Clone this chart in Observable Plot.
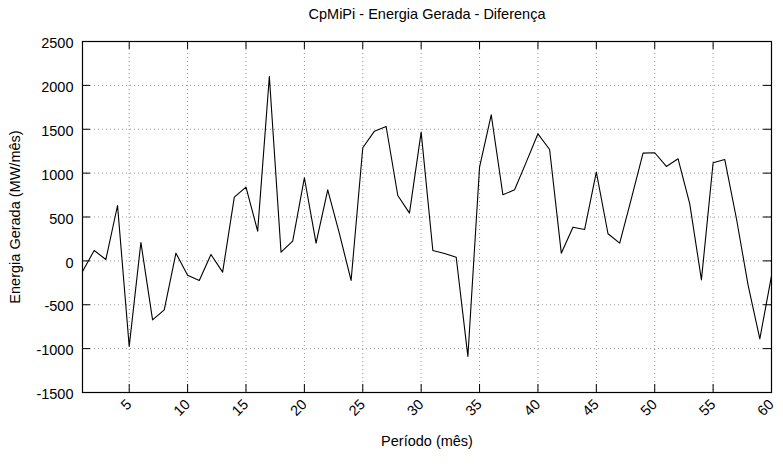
<!DOCTYPE html>
<html>
<head>
<meta charset="utf-8">
<script src="https://cdn.jsdelivr.net/npm/d3@7"></script>
<script src="https://cdn.jsdelivr.net/npm/@observablehq/plot@0.6"></script>
<style>
  html, body { margin: 0; padding: 0; background: #fff; }
  svg { display: block; }
</style>
</head>
<body>
<div id="chart"></div>
<script>
const titleText = "CpMiPi - Energia Gerada - Diferença";
const xLabelText = "Período (mês)";
const yLabelText = "Energia Gerada (MW/mês)";

const periods = [1,2,3,4,5,6,7,8,9,10,11,12,13,14,15,16,17,18,19,20,
  21,22,23,24,25,26,27,28,29,30,31,32,33,34,35,36,37,38,39,40,
  41,42,43,44,45,46,47,48,49,50,51,52,53,54,55,56,57,58,59,60];
const values = [-120,118,16,631,-975,210,-672,-558,88,-163,
  -223,73,-128,726,840,339,2101,99,225,947,
  202,810,310,-223,1289,1478,1531,745,544,1467,
  118,84,42,-1089,1068,1665,753,810,1125,1448,
  1269,88,384,358,1011,309,202,710,1228,1232,
  1076,1163,650,-216,1118,1155,480,-280,-888,-170];

const xTicks = [5,10,15,20,25,30,35,40,45,50,55,60];
const yTicks = [-1500,-1000,-500,0,500,1000,1500,2000,2500];

const data = periods.map((p, i) => ({periodo: p, valor: values[i]}));

const W = 783, H = 466, mL = 82, mR = 12, mT = 41, mB = 74;
const innerW = W - mL - mR, innerH = H - mT - mB;
const tickLen = 8;
const font = "'Liberation Sans', Arial, Helvetica, sans-serif";
const fs = 14.5;

const chart = Plot.plot({
  width: W,
  height: H,
  marginLeft: mL,
  marginRight: mR,
  marginTop: mT,
  marginBottom: mB,
  x: {domain: [1, 60], axis: null},
  y: {domain: [-1500, 2500], axis: null},
  style: {fontFamily: font, fontSize: fs + "px", background: "white", color: "black"},
  marks: [
    Plot.gridX(xTicks, {stroke: "#9a9a9a", strokeOpacity: 1, strokeWidth: 1, strokeDasharray: "1,3"}),
    Plot.gridY(yTicks, {stroke: "#9a9a9a", strokeOpacity: 1, strokeWidth: 1, strokeDasharray: "1,3"}),
    Plot.tickX(xTicks, {x: d => d, insetTop: innerH - tickLen, stroke: "black"}),
    Plot.tickX(xTicks, {x: d => d, insetBottom: innerH - tickLen, stroke: "black"}),
    Plot.tickY(yTicks, {y: d => d, insetRight: innerW - tickLen, stroke: "black"}),
    Plot.tickY(yTicks, {y: d => d, insetLeft: innerW - tickLen, stroke: "black"}),
    Plot.line(data, {x: "periodo", y: "valor", stroke: "black", strokeWidth: 1.1}),
    Plot.frame({stroke: "black", strokeWidth: 1.2}),
    Plot.text(yTicks, {y: d => d, frameAnchor: "left", dx: -9, dy: 2, textAnchor: "end", lineAnchor: "middle", text: d => String(d), fontSize: fs, fill: "black"}),
    Plot.text(xTicks, {x: d => d, frameAnchor: "bottom", dx: 0, dy: 9.5, rotate: -45, textAnchor: "end", lineAnchor: "middle", text: d => String(d), fontSize: fs, fill: "black"}),
    Plot.text([titleText], {frameAnchor: "top", dy: -27.3, textAnchor: "middle", lineAnchor: "middle", text: d => d, fontSize: fs, fill: "black"}),
    Plot.text([xLabelText], {frameAnchor: "bottom", dy: 48.4, textAnchor: "middle", lineAnchor: "middle", text: d => d, fontSize: fs, fill: "black"}),
    Plot.text([yLabelText], {frameAnchor: "left", dx: -66.8, rotate: -90, textAnchor: "middle", lineAnchor: "middle", text: d => d, fontSize: fs, fill: "black"})
  ]
});

document.getElementById("chart").appendChild(chart);
</script>
</body>
</html>
